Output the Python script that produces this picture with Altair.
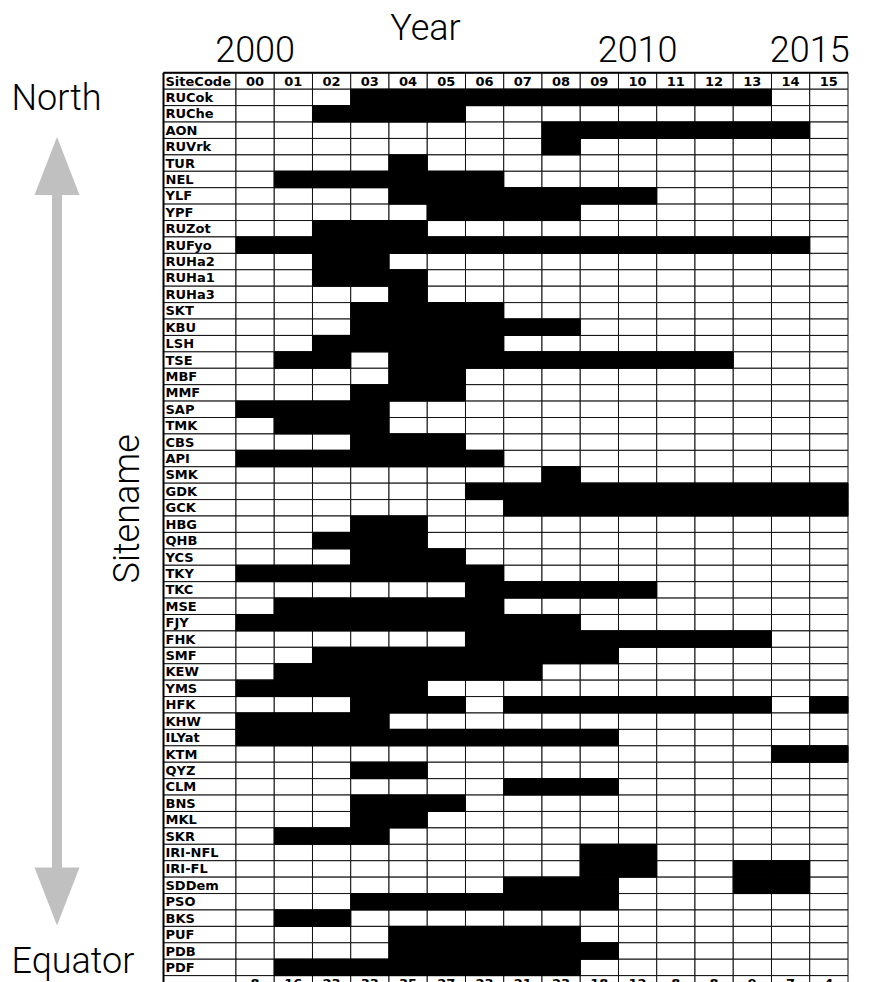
import altair as alt
import pandas as pd

# ---------------- data ----------------
site_codes = [
    "RUCok", "RUChe", "AON", "RUVrk", "TUR", "NEL", "YLF", "YPF", "RUZot",
    "RUFyo", "RUHa2", "RUHa1", "RUHa3", "SKT", "KBU", "LSH", "TSE", "MBF",
    "MMF", "SAP", "TMK", "CBS", "API", "SMK", "GDK", "GCK", "HBG", "QHB",
    "YCS", "TKY", "TKC", "MSE", "FJY", "FHK", "SMF", "KEW", "YMS", "HFK",
    "KHW", "ILYat", "KTM", "QYZ", "CLM", "BNS", "MKL", "SKR", "IRI-NFL",
    "IRI-FL", "SDDem", "PSO", "BKS", "PUF", "PDB", "PDF",
]

# observed periods (first year index, last year index), 0 = 2000
site_spans = [
    [(3, 13)], [(2, 5)], [(8, 14)], [(8, 8)], [(4, 4)], [(1, 6)], [(4, 10)],
    [(5, 8)], [(2, 4)], [(0, 14)], [(2, 3)], [(2, 4)], [(4, 4)], [(3, 6)],
    [(3, 8)], [(2, 6)], [(1, 2), (4, 12)], [(4, 5)], [(3, 5)], [(0, 3)],
    [(1, 3)], [(3, 5)], [(0, 6)], [(8, 8)], [(6, 15)], [(7, 15)], [(3, 4)],
    [(2, 4)], [(3, 5)], [(0, 6)], [(6, 10)], [(1, 6)], [(0, 8)], [(6, 13)],
    [(2, 9)], [(1, 7)], [(0, 4)], [(3, 5), (7, 13), (15, 15)], [(0, 3)],
    [(0, 9)], [(14, 15)], [(3, 4)], [(7, 9)], [(3, 5)], [(3, 4)], [(1, 3)],
    [(9, 10)], [(9, 10), (13, 14)], [(7, 9), (13, 14)], [(3, 9)], [(1, 2)],
    [(4, 8)], [(4, 9)], [(1, 8)],
]

year_labels = ["00", "01", "02", "03", "04", "05", "06", "07",
               "08", "09", "10", "11", "12", "13", "14", "15"]
decade_labels = ["2000", "2010", "2015"]
decade_positions = [0.5, 10.5, 15.0]   # in year-column units
header_label = "SiteCode"

# ---------------- layout ----------------
ROW_H = 16.415
CODE_W = 1.895          # width of the SiteCode column, in year-column units
N_ROWS = len(site_codes)
W = 684.5
H = 909.2

xs = alt.Scale(domain=[-CODE_W, 16], nice=False, zero=False)
ys = alt.Scale(domain=[-1, N_ROWS + 1], range=[0, (N_ROWS + 2) * ROW_H],
               nice=False, zero=False)

# grid cells (header row, site rows, count row)
grid = []
for r in range(-1, N_ROWS + 1):
    for c in range(-1, 16):
        x0 = -CODE_W if c < 0 else c
        x1 = 0 if c < 0 else c + 1
        grid.append({"x": x0, "x2": x1, "y": r, "y2": r + 1})
grid_df = pd.DataFrame(grid)

active = []
for i, (code, spans) in enumerate(zip(site_codes, site_spans)):
    for a, b in spans:
        for j in range(a, b + 1):
            active.append({"site": code, "year": year_labels[j],
                           "x": j, "x2": j + 1, "y": i, "y2": i + 1})
active_df = pd.DataFrame(active)

counts = active_df.groupby("x").size().reindex(range(16), fill_value=0)

names_df = pd.DataFrame({"label": [header_label] + site_codes,
                         "x": -CODE_W,
                         "y": [r + 0.5 for r in range(-1, N_ROWS)]})
years_df = pd.DataFrame({"label": year_labels,
                         "x": [j + 0.5 for j in range(16)], "y": -0.5})
counts_df = pd.DataFrame({"label": [str(v) for v in counts.values],
                          "x": [j + 0.5 for j in range(16)], "y": N_ROWS + 0.5})
decades_df = pd.DataFrame({"label": decade_labels, "x": decade_positions})

TABLE_FONT = "DejaVu Sans"
BIG_FONT = "Roboto"
BIG_SIZE = 36

grid_layer = alt.Chart(grid_df).mark_rect(
    fill="white", stroke="#111", strokeWidth=1
).encode(
    x=alt.X("x:Q", scale=xs, axis=None), x2="x2",
    y=alt.Y("y:Q", scale=ys, axis=None), y2="y2",
)

black_layer = alt.Chart(active_df).mark_rect(
    fill="black", stroke="black", strokeWidth=1
).encode(
    x=alt.X("x:Q", scale=xs, axis=None), x2="x2",
    y=alt.Y("y:Q", scale=ys, axis=None), y2="y2",
    tooltip=["site", "year"],
)

border_left = alt.Chart(pd.DataFrame({"x": [-CODE_W], "y": [-1], "y2": [N_ROWS + 1]})).mark_rule(
    color="black", strokeWidth=2
).encode(
    x=alt.X("x:Q", scale=xs, axis=None),
    y=alt.Y("y:Q", scale=ys, axis=None), y2="y2",
)
border_top = alt.Chart(pd.DataFrame({"x": [-CODE_W], "x2": [16], "y": [-1]})).mark_rule(
    color="black", strokeWidth=2
).encode(
    x=alt.X("x:Q", scale=xs, axis=None), x2="x2",
    y=alt.Y("y:Q", scale=ys, axis=None),
)

def table_text(df, align, dx=0):
    return alt.Chart(df).mark_text(
        font=TABLE_FONT, fontWeight="bold", fontSize=13, color="black",
        align=align, baseline="middle", dx=dx, dy=0.5,
    ).encode(
        x=alt.X("x:Q", scale=xs, axis=None),
        y=alt.Y("y:Q", scale=ys, axis=None),
        text="label:N",
    )

names_layer = table_text(names_df, "left", dx=2)
years_layer = table_text(years_df, "center")
counts_layer = table_text(counts_df, "center")

decades_layer = alt.Chart(decades_df).mark_text(
    font=BIG_FONT, fontWeight=300, fontSize=BIG_SIZE, color="black",
    align="center", baseline="alphabetic",
).encode(
    x=alt.X("x:Q", scale=xs, axis=None),
    y=alt.value(-11),
    text="label:N",
)

def big_text(label, x, y, align="left", angle=0, baseline="alphabetic"):
    return alt.Chart(pd.DataFrame({"label": [label]})).mark_text(
        font=BIG_FONT, fontWeight=300, fontSize=BIG_SIZE, color="black",
        align=align, baseline=baseline, angle=angle,
    ).encode(x=alt.value(x), y=alt.value(y), text="label:N")

year_title = big_text("Year", 262, -33, align="center")
north = big_text("North", -152, 37)
equator = big_text("Equator", -152, 900)
sitename = big_text("Sitename", -36, 436, align="center", angle=270, baseline="middle")

ARROW = "#c0c0c0"
shaft = alt.Chart(pd.DataFrame({"k": [0]})).mark_rule(
    color=ARROW, strokeWidth=10
).encode(x=alt.value(-106.5), y=alt.value(115), y2=alt.value(800))

head_up = alt.Chart(pd.DataFrame({"k": [0]})).mark_point(
    shape="M0,-1.29L1,1.29L-1,1.29Z", size=2025, filled=True,
    color=ARROW, opacity=1, strokeWidth=0,
).encode(x=alt.value(-106.5), y=alt.value(93.2))

head_down = alt.Chart(pd.DataFrame({"k": [0]})).mark_point(
    shape="M0,1.29L1,-1.29L-1,-1.29Z", size=2025, filled=True,
    color=ARROW, opacity=1, strokeWidth=0,
).encode(x=alt.value(-106.5), y=alt.value(823.7))

chart = alt.layer(
    grid_layer, black_layer, border_left, border_top,
    names_layer, years_layer, counts_layer, decades_layer,
    year_title, north, equator, sitename, shaft, head_up, head_down,
).properties(
    width=W, height=H,
    padding={"left": 155.5, "top": 64.8, "right": 12, "bottom": 0},
    autosize=alt.AutoSizeParams(type="none"),
).configure_view(stroke=None)

chart.save("out.html", embed_options={"renderer": "svg", "actions": False})
